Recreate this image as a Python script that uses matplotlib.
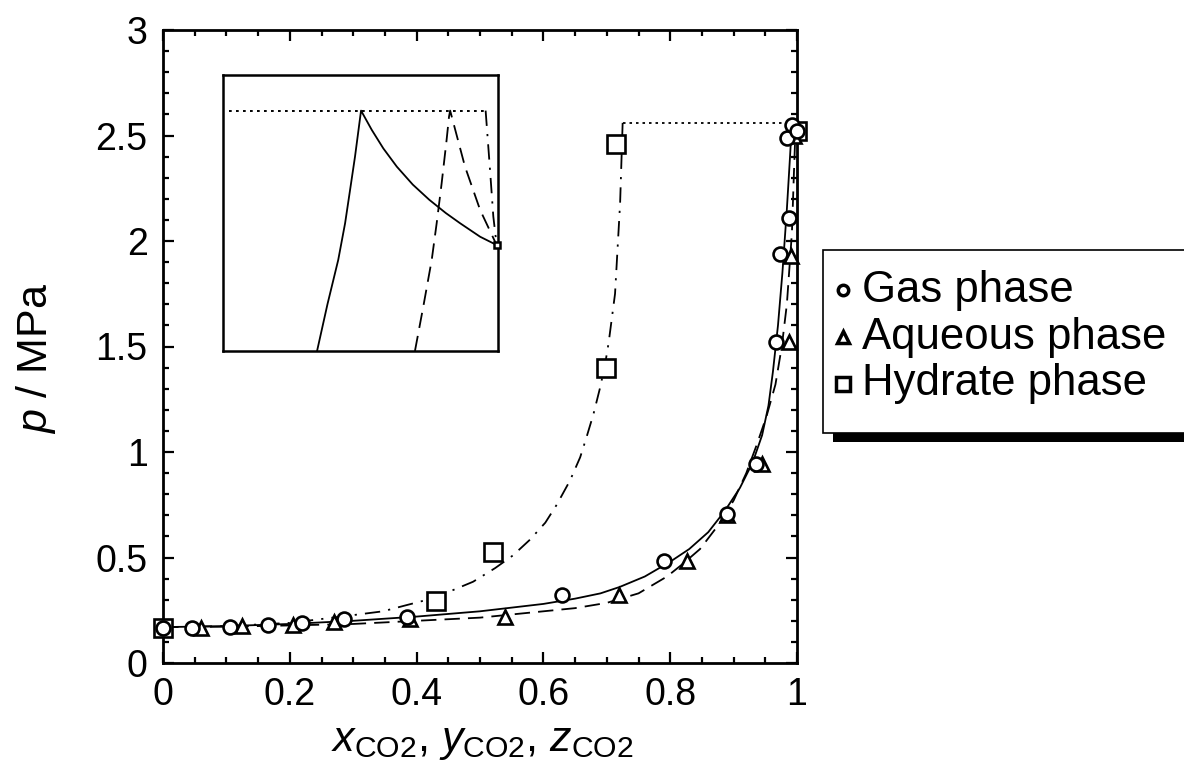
import matplotlib
matplotlib.use("Agg")
import matplotlib.pyplot as plt
from matplotlib.patches import Rectangle
from matplotlib.lines import Line2D
from matplotlib.ticker import MultipleLocator, FuncFormatter

plt.rcParams['font.family'] = ['Liberation Sans', 'DejaVu Sans']
plt.rcParams['mathtext.fontset'] = 'custom'
plt.rcParams['mathtext.rm'] = 'Liberation Sans'
plt.rcParams['mathtext.it'] = 'Liberation Sans:italic'

# ---- experimental data ----
gas_x = [0.0, 0.045, 0.105, 0.165, 0.22, 0.285, 0.385, 0.63, 0.79, 0.89, 0.935, 0.967, 0.973, 0.988, 0.985, 0.992, 1.0]
gas_p = [0.165, 0.165, 0.17, 0.18, 0.19, 0.21, 0.22, 0.32, 0.485, 0.705, 0.945, 1.52, 1.94, 2.11, 2.49, 2.55, 2.52]

aq_x = [0.06, 0.125, 0.205, 0.27, 0.39, 0.54, 0.72, 0.826, 0.89, 0.945, 0.987, 0.99, 0.995]
aq_p = [0.165, 0.175, 0.18, 0.195, 0.21, 0.22, 0.32, 0.485, 0.70, 0.945, 1.52, 1.93, 2.50]

hyd_x = [0.0, 0.43, 0.52, 0.698, 0.714, 1.0]
hyd_p = [0.165, 0.295, 0.526, 1.40, 2.46, 2.52]

# ---- model curves ----
gas_cx = [0.0, 0.1, 0.2, 0.3, 0.4, 0.5, 0.6, 0.65, 0.69, 0.72, 0.76, 0.8, 0.83, 0.86, 0.886, 0.91,
          0.93, 0.945, 0.955, 0.962, 0.97, 0.977, 0.984, 0.989, 0.992]
gas_cp = [0.17, 0.175, 0.185, 0.2, 0.22, 0.245, 0.28, 0.305, 0.33, 0.36, 0.41, 0.48, 0.54, 0.62, 0.72, 0.83,
          0.95, 1.08, 1.22, 1.38, 1.6, 1.85, 2.15, 2.4, 2.56]

aq_cx = [0.0, 0.1, 0.2, 0.3, 0.4, 0.5, 0.6, 0.65, 0.7, 0.75, 0.795, 0.82, 0.847, 0.875, 0.9, 0.92,
         0.936, 0.952, 0.966, 0.976, 0.984, 0.992, 0.995, 0.998]
aq_cp = [0.17, 0.172, 0.178, 0.185, 0.2, 0.215, 0.245, 0.26, 0.285, 0.33, 0.41, 0.47, 0.54, 0.65, 0.77, 0.9,
         1.03, 1.17, 1.32, 1.5, 1.7, 2.04, 2.31, 2.56]

hyd_cx = [0.0, 0.1, 0.2, 0.3, 0.347, 0.385, 0.43, 0.453, 0.489, 0.524, 0.552, 0.579, 0.603, 0.621, 0.642,
          0.658, 0.668, 0.679, 0.689, 0.697, 0.703, 0.713, 0.721, 0.725]
hyd_cp = [0.17, 0.175, 0.19, 0.227, 0.245, 0.275, 0.31, 0.34, 0.385, 0.45, 0.51, 0.585, 0.665, 0.75, 0.865,
          0.975, 1.07, 1.18, 1.30, 1.41, 1.52, 1.75, 2.18, 2.56]

three_x = [0.725, 1.0]
three_p = [2.56, 2.56]

# ---- inset (normalised zoom near the quadruple point) ----
in_dot_x = [0.02, 0.955]
in_dot_y = [0.871, 0.871]
in_sol_x = [0.342, 0.38, 0.419, 0.444, 0.462, 0.480, 0.502, 0.541, 0.583, 0.632, 0.69, 0.75, 0.81, 0.862, 0.935, 0.995]
in_sol_y = [0.0, 0.17, 0.330, 0.463, 0.583, 0.704, 0.871, 0.801, 0.734, 0.668, 0.603, 0.548, 0.500, 0.463, 0.414, 0.384]
in_dash_x = [0.698, 0.73, 0.759, 0.777, 0.795, 0.813, 0.822, 0.826, 0.88, 0.935, 0.995]
in_dash_y = [0.0, 0.17, 0.330, 0.463, 0.607, 0.764, 0.85, 0.871, 0.668, 0.511, 0.384]
in_dd_x = [0.955, 0.971, 0.983, 0.995]
in_dd_y = [0.871, 0.656, 0.487, 0.384]
in_pt_x = [0.995]
in_pt_y = [0.384]

W, H = 1184, 764
fig = plt.figure(figsize=(W / 100, H / 100), dpi=100)

def fx(px):
    return px / W

def fy(py):
    return 1 - py / H

ax = fig.add_axes([fx(163), fy(663), fx(797) - fx(163), fy(30) - fy(663)])

dash = (0, (8.5, 4.5))
dashdot = (0, (8.5, 4.5, 1.2, 4.5))
dotted = (0, (1.4, 2.2))
LW = 1.3

ax.plot(gas_cx, gas_cp, color='black', lw=LW, ls='-')
ax.plot(aq_cx, aq_cp, color='black', lw=LW, ls=dash)
ax.plot(hyd_cx, hyd_cp, color='black', lw=LW, ls=dashdot)
ax.plot(three_x, three_p, color='black', lw=LW, ls=dotted)

ax.plot(hyd_x, hyd_p, ls='none', marker='s', ms=12.5, mfc='white', mec='black', mew=1.9, clip_on=False, zorder=5)
ax.plot(aq_x, aq_p, ls='none', marker='^', ms=10, mfc='white', mec='black', mew=1.9, clip_on=False, zorder=6)
ax.plot(gas_x, gas_p, ls='none', marker='o', ms=10, mfc='white', mec='black', mew=1.9, clip_on=False, zorder=7)

ax.set_xlim(0, 1)
ax.set_ylim(0, 3)
ax.xaxis.set_major_locator(MultipleLocator(0.2))
ax.xaxis.set_minor_locator(MultipleLocator(0.05))
ax.yaxis.set_major_locator(MultipleLocator(0.5))
ax.yaxis.set_minor_locator(MultipleLocator(0.1))
fmt = FuncFormatter(lambda v, pos: '%g' % round(v, 3))
ax.xaxis.set_major_formatter(fmt)
ax.yaxis.set_major_formatter(fmt)
ax.tick_params(which='both', direction='in', top=True, right=True, labelsize=27, width=1.6)
ax.tick_params(axis='y', pad=11)
ax.tick_params(axis='x', pad=10)
ax.tick_params(which='major', length=8)
ax.tick_params(which='minor', length=4.5)
for s in ax.spines.values():
    s.set_linewidth(2.0)

fig.text(fx(482), fy(742), r'$x_{\mathrm{CO2}}$, $y_{\mathrm{CO2}}$, $z_{\mathrm{CO2}}$', fontsize=31,
         ha='center', va='center')
fig.text(fx(36), fy(358), r'$p$ / MPa', fontsize=31, rotation=90, ha='center', va='center')

# inset
ai = fig.add_axes([fx(223), fy(351), fx(498) - fx(223), fy(75) - fy(351)])
ai.plot(in_dot_x, in_dot_y, color='black', lw=1.4, ls=dotted)
ai.plot(in_sol_x, in_sol_y, color='black', lw=LW, ls='-')
ai.plot(in_dash_x, in_dash_y, color='black', lw=LW, ls=dash)
ai.plot(in_dd_x, in_dd_y, color='black', lw=LW, ls=dashdot)
ai.plot(in_pt_x, in_pt_y, ls='none', marker='s', ms=4.5, mfc='white', mec='black', mew=1.8, clip_on=False, zorder=5)
ai.set_xlim(0, 1)
ai.set_ylim(0, 1)
ai.set_xticks([])
ai.set_yticks([])
for s in ai.spines.values():
    s.set_linewidth(1.8)

# legend with drop shadow
fig.add_artist(Rectangle((fx(833), fy(442)), fx(1200) - fx(833), fy(260) - fy(442),
                         transform=fig.transFigure, facecolor='black', edgecolor='none', zorder=10))
fig.add_artist(Rectangle((fx(823), fy(433)), fx(1200) - fx(823), fy(250) - fy(433),
                         transform=fig.transFigure, facecolor='white', edgecolor='black', lw=1.2, zorder=11))
labels = ['Gas phase', 'Aqueous phase', 'Hydrate phase']
markers = ['o', '^', 's']
msizes = [7.5, 8.5, 10]
rows = [290, 337, 384]
for lab, mk, ms, r in zip(labels, markers, msizes, rows):
    fig.add_artist(Line2D([fx(843)], [fy(r)], transform=fig.transFigure, ls='none', marker=mk, ms=ms,
                          mfc='white', mec='black', mew=2.5, zorder=12))
    fig.text(fx(862), fy(r), lab, fontsize=31.5, ha='left', va='center', zorder=12)

fig.savefig('out.png', dpi=100)
